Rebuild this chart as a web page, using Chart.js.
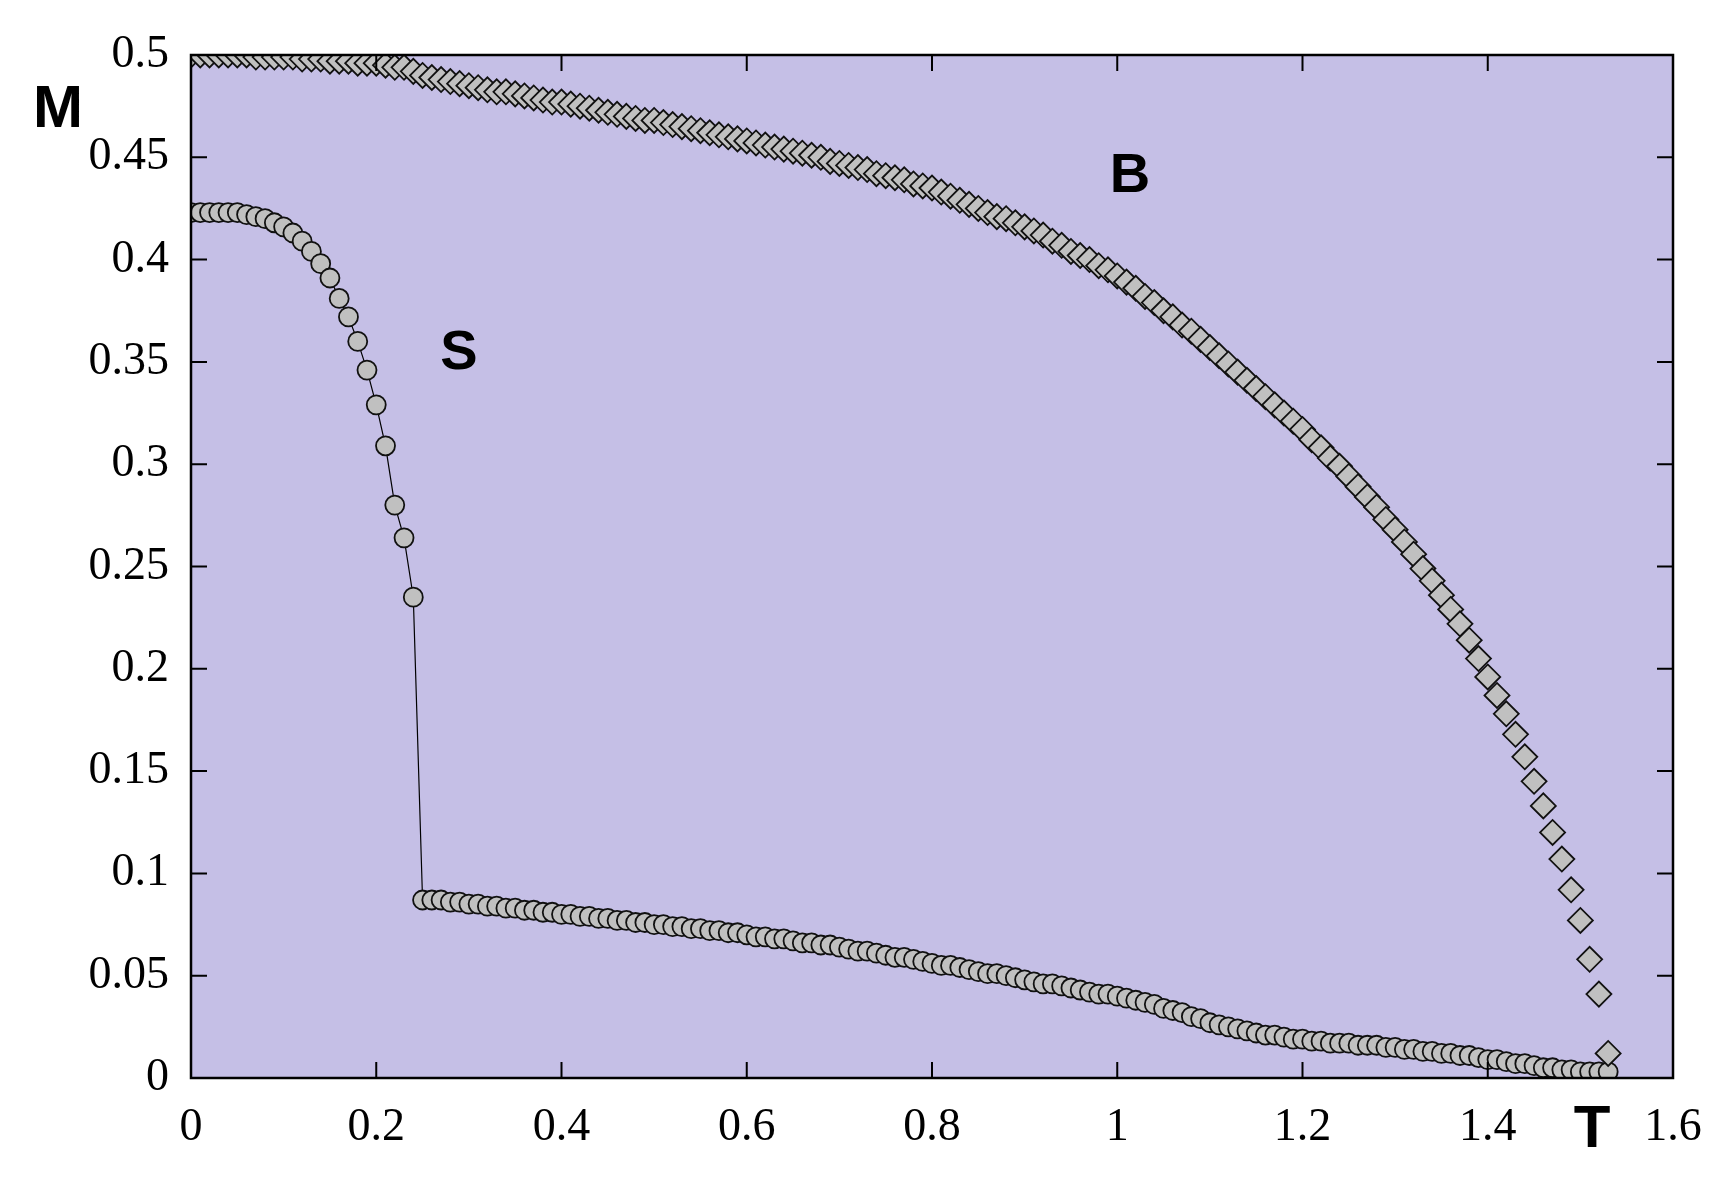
<!DOCTYPE html>
<html><head><meta charset="utf-8">
<script src="https://cdn.jsdelivr.net/npm/chart.js@4"></script>
<style>html,body{margin:0;padding:0;background:#fff}#c{display:block}</style>
</head><body>
<div style="width:1725px;height:1187px"><canvas id="c"></canvas></div>
<script>
const xTicks = [0,0.2,0.4,0.6,0.8,1,1.2,1.4,1.6];
const yTicks = [0,0.05,0.1,0.15,0.2,0.25,0.3,0.35,0.4,0.45,0.5];
const B_T0 = 0.00;
const B_M = [.500,.500,.500,.500,.500,.500,.500,.499,.499,.499,
.499,.499,.498,.498,.498,.497,.497,.497,.496,.496,
.496,.495,.494,.494,.492,.490,.489,.488,.487,.486,
.485,.484,.483,.482,.482,.481,.480,.479,.478,.477,
.477,.476,.475,.474,.473,.472,.471,.470,.469,.468,
.468,.467,.466,.465,.464,.463,.462,.461,.460,.459,
.458,.457,.456,.455,.454,.453,.452,.451,.450,.448,
.447,.446,.445,.444,.442,.441,.440,.439,.437,.436,
.435,.433,.431,.429,.427,.425,.423,.421,.420,.418,
.416,.414,.412,.409,.407,.404,.402,.400,.397,.395,
.392,.389,.386,.382,.379,.375,.372,.368,.365,.361,
.357,.353,.349,.345,.341,.337,.333,.329,.325,.321,
.317,.312,.308,.303,.299,.294,.289,.284,.279,.273,
.268,.262,.256,.249,.243,.236,.229,.222,.214,.205,
.196,.187,.178,.168,.157,.145,.133,.120,.107,.092,
.077,.058,.041,.012];
const S_T0 = 0.00;
const S_M = [.423,.423,.423,.423,.423,.423,.422,.421,.420,.418,
.416,.413,.409,.404,.398,.391,.381,.372,.360,.346,
.329,.309,.280,.264,.235,
.087,.087,.087,.086,.086,
.085,.085,.084,.084,.083,.083,.082,.082,.081,.081,
.080,.080,.079,.079,.078,.078,.077,.077,.076,.076,
.075,.075,.074,.074,.073,.073,.072,.072,.071,.071,
.070,.069,.069,.068,.068,.067,.066,.066,.065,.065,
.064,.063,.062,.062,.061,.060,.059,.059,.058,.057,
.056,.055,.055,.054,.053,.052,.051,.051,.050,.049,
.048,.047,.046,.046,.045,.044,.043,.042,.041,.041,
.040,.039,.038,.037,.036,.034,.033,.032,.030,.029,
.027,.026,.025,.024,.023,.022,.021,.021,.020,.019,
.019,.018,.018,.017,.017,.017,.016,.016,.016,.015,
.015,.014,.014,.013,.013,.012,.012,.011,.011,.010,
.009,.009,.008,.007,.007,.006,.005,.005,.004,.004,
.003,.003,.003,.003];
const STEP = 0.01;
const bData = B_M.map((m,i)=>({x:+(B_T0+i*STEP).toFixed(2), y:m}));
const sData = S_M.map((m,i)=>({x:+(S_T0+i*STEP).toFixed(2), y:m}));

const deco = {
  id:'deco',
  beforeDraw(ch){const {ctx,chartArea:a}=ch;ctx.save();ctx.fillStyle='#c5bfe6';ctx.fillRect(a.left,a.top,a.right-a.left,a.bottom-a.top);ctx.restore();},
  afterDraw(ch){
    const {ctx,chartArea:a,scales:{x,y}}=ch;ctx.save();
    ctx.strokeStyle='#000';ctx.lineWidth=2;
    const L=16;
    ctx.beginPath();
    xTicks.forEach(v=>{const p=x.getPixelForValue(v);ctx.moveTo(p,a.bottom);ctx.lineTo(p,a.bottom-L);ctx.moveTo(p,a.top);ctx.lineTo(p,a.top+L);});
    yTicks.forEach(v=>{const p=y.getPixelForValue(v);ctx.moveTo(a.left,p);ctx.lineTo(a.left+L,p);ctx.moveTo(a.right,p);ctx.lineTo(a.right-L,p);});
    ctx.stroke();
    ctx.lineWidth=2.5;ctx.strokeRect(a.left,a.top,a.right-a.left,a.bottom-a.top);
    ctx.fillStyle='#000';ctx.font='bold 60px "Liberation Sans", Arial';ctx.textAlign='center';ctx.textBaseline='middle';
    ctx.fillText('M',58,110);ctx.fillText('T',1592,1130);
    ctx.font='bold 56px "Liberation Sans", Arial';
    ctx.fillText('B',1130,177);ctx.fillText('S',459,354);
    ctx.restore();
  }
};

new Chart(document.getElementById('c'),{
  type:'scatter',
  data:{datasets:[
    {label:'B',data:bData,pointStyle:'rectRot',pointRadius:12.5,pointBackgroundColor:'#c0c0c0',pointBorderColor:'#111',pointBorderWidth:1.8,showLine:false},
    {label:'S',data:sData,pointStyle:'circle',pointRadius:9.5,pointBackgroundColor:'#c0c0c0',pointBorderColor:'#111',pointBorderWidth:1.8,showLine:true,borderColor:'#000',borderWidth:1.2}
  ]},
  options:{
    responsive:true,maintainAspectRatio:false,animation:false,devicePixelRatio:1,
    layout:{padding:{left:0,top:55,right:52,bottom:0}},
    plugins:{legend:{display:false},tooltip:{enabled:false}},
    scales:{
      x:{type:'linear',min:0,max:1.6,afterBuildTicks:s=>{s.ticks=xTicks.map(v=>({value:v}));},
        afterFit:s=>{s.height=109;},
        grid:{display:false},border:{display:false},
        ticks:{color:'#000',padding:14,maxRotation:0,font:{family:'"Liberation Serif", "Times New Roman", serif',size:46},callback:v=>String(+v.toFixed(2))}},
      y:{min:0,max:0.5,afterBuildTicks:s=>{s.ticks=yTicks.map(v=>({value:v}));},
        afterFit:s=>{s.width=191;},
        grid:{display:false},border:{display:false},
        ticks:{color:'#000',padding:14,font:{family:'"Liberation Serif", "Times New Roman", serif',size:46},callback:v=>String(+v.toFixed(2))}}
    }
  },
  plugins:[deco]
});
</script>
</body></html>
